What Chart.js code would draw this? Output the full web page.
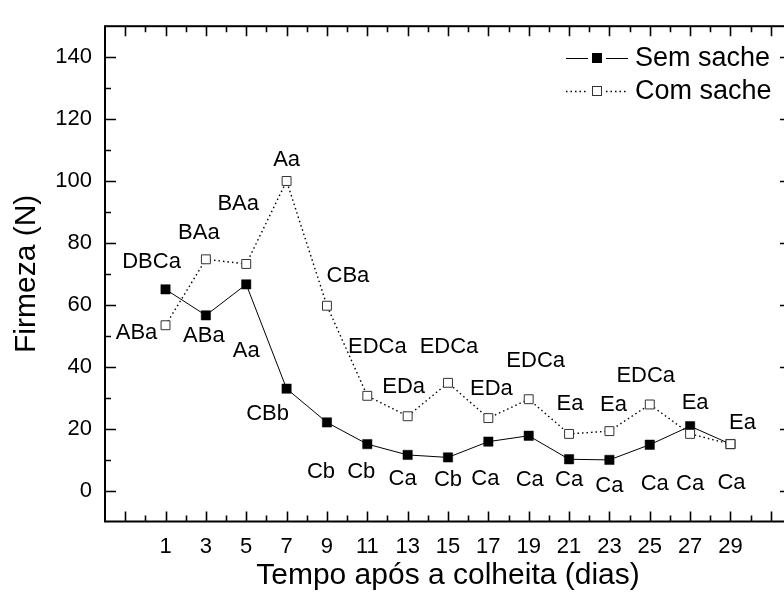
<!DOCTYPE html>
<html>
<head>
<meta charset="utf-8">
<script src="https://cdn.jsdelivr.net/npm/chart.js@4.4.1/dist/chart.umd.min.js"></script>
<style>
  html, body { margin: 0; padding: 0; background: #fff; overflow: hidden; }
  #wrap { width: 800px; height: 603px; position: relative; }
</style>
</head>
<body>
<div id="wrap"><canvas id="c"></canvas></div>
<script>
// ---- data ----
const days = [1, 3, 5, 7, 9, 11, 13, 15, 17, 19, 21, 23, 25, 27, 29];
const semSache = [65.0, 56.6, 66.6, 32.9, 22.0, 15.0, 11.5, 10.7, 15.8, 17.7, 10.1, 9.9, 14.8, 20.8, 15.0];
const comSache = [53.4, 74.7, 73.2, 100.0, 59.7, 30.6, 24.0, 34.8, 23.4, 29.5, 18.3, 19.2, 27.8, 18.3, 15.0];
const semLabels = ['DBCa', 'ABa', 'Aa', 'CBb', 'Cb', 'Cb', 'Ca', 'Cb', 'Ca', 'Ca', 'Ca', 'Ca', 'Ca', 'Ca', 'Ca'];
const comLabels = ['ABa', 'BAa', 'BAa', 'Aa', 'CBa', 'EDCa', 'EDa', 'EDCa', 'EDa', 'EDCa', 'Ea', 'Ea', 'EDCa', 'Ea', 'Ea'];
const yTickValues = [0, 20, 40, 60, 80, 100, 120, 140];
const xTickLabels = ['1', '3', '5', '7', '9', '11', '13', '15', '17', '19', '21', '23', '25', '27', '29'];
const seriesNames = ['Sem sache', 'Com sache'];
const xTitle = 'Tempo após a colheita (dias)';
const yTitle = 'Firmeza (N)';

// ---- layout (pixel offsets of the letter labels relative to their point) ----
const semLabelOffsets = [[-14,-27],[-2,21],[0,67],[-19,25],[-6,49],[-6,28],[-5,24],[0,23],[-3,37],[1,44],[0,21],[0,26],[5,39],[0,58],[1,39]];
const comLabelOffsets = [[-29,8],[-7,-26],[-8,-60],[0,-21],[21,-30],[10,-49],[-4,-29],[1,-36],[3,-29],[7,-38],[1,-30],[4,-26],[-4,-29],[5,-31],[12,-21]];

const FONT = '"Liberation Sans", Arial, Helvetica, sans-serif';
Chart.defaults.color = '#000';
Chart.defaults.font.family = FONT;

const framePlugin = {
  id: 'frame',
  beforeDatasetsDraw(chart) {
    const { ctx, chartArea: a, scales: { x, y } } = chart;
    ctx.save();
    ctx.strokeStyle = '#000';
    // ticks
    ctx.lineWidth = 1.6;
    ctx.beginPath();
    for (let v = -1; v <= 31; v++) {
      const px = Math.round(x.getPixelForValue(v)) + 0.5;
      const len = (v % 2 !== 0) ? 10 : 6;
      ctx.moveTo(px, a.bottom); ctx.lineTo(px, a.bottom - len);
      ctx.moveTo(px, a.top); ctx.lineTo(px, a.top + len);
    }
    for (let v = 0; v <= 140; v += 10) {
      const py = Math.round(y.getPixelForValue(v)) + 0.5;
      const len = (v % 20 === 0) ? 11 : 6;
      ctx.moveTo(a.left, py); ctx.lineTo(a.left + len, py);
      ctx.moveTo(a.right, py); ctx.lineTo(a.right - len, py);
    }
    ctx.stroke();
    // frame
    ctx.lineWidth = 2;
    ctx.strokeRect(a.left, a.top, a.right - a.left, a.bottom - a.top);
    ctx.restore();
  },
  afterDatasetsDraw(chart) {
    const { ctx } = chart;
    ctx.save();
    ctx.font = '22px ' + FONT;
    ctx.fillStyle = '#000';
    ctx.textAlign = 'center';
    ctx.textBaseline = 'middle';
    const sets = [[0, semLabels, semLabelOffsets], [1, comLabels, comLabelOffsets]];
    for (const [di, labels, offs] of sets) {
      const meta = chart.getDatasetMeta(di);
      meta.data.forEach((pt, i) => {
        ctx.fillText(labels[i], pt.x + offs[i][0], pt.y + offs[i][1]);
      });
    }
    // legend
    const rows = [
      { y: 58, ds: chart.data.datasets[0] },
      { y: 91, ds: chart.data.datasets[1] }
    ];
    for (const r of rows) {
      ctx.strokeStyle = '#000';
      ctx.lineWidth = r.ds.borderDash && r.ds.borderDash.length ? 1.3 : 1;
      ctx.setLineDash(r.ds.borderDash || []);
      ctx.beginPath();
      ctx.moveTo(566, r.y + 0.5); ctx.lineTo(588, r.y + 0.5);
      ctx.moveTo(606, r.y + 0.5); ctx.lineTo(628, r.y + 0.5);
      ctx.stroke();
      ctx.setLineDash([]);
      ctx.fillStyle = r.ds.pointBackgroundColor;
      ctx.fillRect(592.5, r.y - 4.5, 9, 9);
      ctx.strokeStyle = r.ds.pointBorderColor;
      ctx.lineWidth = 1;
      ctx.strokeRect(592.5, r.y - 4.5, 9, 9);
      ctx.fillStyle = '#000';
      ctx.font = '27px ' + FONT;
      ctx.textAlign = 'left';
      ctx.fillText(r.ds.label, 635, r.y + 1);
    }
    ctx.restore();
  }
};

new Chart(document.getElementById('c'), {
  type: 'line',
  data: {
    datasets: [
      {
        label: seriesNames[0],
        data: days.map((d, i) => ({ x: d, y: semSache[i] })),
        borderColor: '#000',
        borderWidth: 1,
        pointStyle: 'rect',
        pointRadius: 6.6,
        pointBackgroundColor: '#000',
        pointBorderColor: '#000',
        pointBorderWidth: 0.5,
        order: 1
      },
      {
        label: seriesNames[1],
        data: days.map((d, i) => ({ x: d, y: comSache[i] })),
        borderColor: '#000',
        borderWidth: 1.4,
        borderDash: [1.5, 3],
        pointStyle: 'rect',
        pointRadius: 6.3,
        pointBackgroundColor: '#fff',
        pointBorderColor: '#333',
        pointBorderWidth: 1,
        order: 0
      }
    ]
  },
  options: {
    responsive: true,
    maintainAspectRatio: false,
    animation: false,
    devicePixelRatio: 1,
    layout: { padding: { top: 16, left: 0, right: 9, bottom: 0 } },
    plugins: { legend: { display: false }, tooltip: { enabled: false } },
    elements: { line: { tension: 0 } },
    scales: {
      x: {
        type: 'linear',
        min: -2,
        max: 32,
        afterBuildTicks(s) { s.ticks = days.map(v => ({ value: v })); },
        afterFit(s) { s.height = 81.5; },
        grid: { display: false, drawTicks: false },
        border: { display: false },
        ticks: {
          autoSkip: false,
          maxRotation: 0,
          padding: 12,
          font: { size: 22 },
          callback: (v, i) => xTickLabels[i]
        },
        title: { display: true, text: xTitle, font: { size: 30 }, padding: { top: 0, bottom: 9 } }
      },
      y: {
        min: -10,
        max: 150,
        afterBuildTicks(s) { s.ticks = yTickValues.map(v => ({ value: v })); },
        afterFit(s) { s.width = 105; },
        grid: { display: false, drawTicks: false },
        border: { display: false },
        ticks: { padding: 13, font: { size: 22 } },
        title: { display: true, text: yTitle, font: { size: 30 }, padding: { top: 9, bottom: 0 } }
      }
    }
  },
  plugins: [framePlugin]
});
</script>
</body>
</html>
